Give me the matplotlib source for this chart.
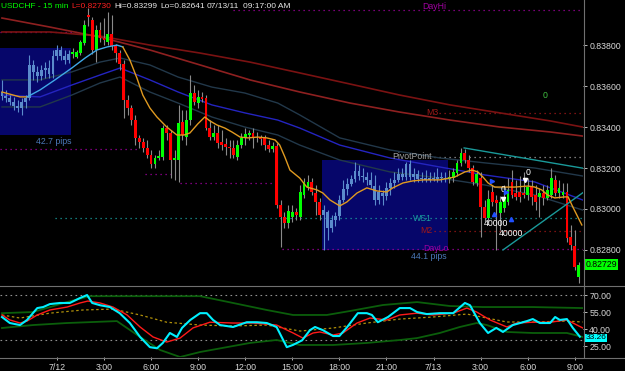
import matplotlib
matplotlib.use("Agg")
import matplotlib.pyplot as plt
from matplotlib.lines import Line2D
import numpy as np

plt.rcParams['font.family'] = ['Liberation Sans', 'DejaVu Sans']

# ---- 15 min candles, USDCHF, 7/11 20:30 .. 7/13 09:15 ----
opens = [0.83571, 0.83552, 0.83542, 0.83522, 0.83503, 0.83493, 0.83522, 0.83542, 0.83703, 0.83669,
         0.83649, 0.83678, 0.83688, 0.83659, 0.83747, 0.83776, 0.83747, 0.83727, 0.83756, 0.83742,
         0.83761, 0.83810, 0.83947, 0.83922, 0.83776, 0.83874, 0.83835, 0.83815, 0.83854, 0.83796,
         0.83761, 0.83708, 0.83532, 0.83493, 0.83434, 0.83347, 0.83327, 0.83298, 0.83264, 0.83220,
         0.83249, 0.83254, 0.83395, 0.83371, 0.83239, 0.83239, 0.83425, 0.83351, 0.83434, 0.83566,
         0.83517, 0.83547, 0.83542, 0.83395, 0.83351, 0.83371, 0.83327, 0.83317, 0.83303, 0.83298,
         0.83254, 0.83312, 0.83347, 0.83361, 0.83371, 0.83351, 0.83351, 0.83347, 0.83312, 0.83293,
         0.83308, 0.83020, 0.82961, 0.82932, 0.82961, 0.82985, 0.82961, 0.83068, 0.83107, 0.83132,
         0.83078, 0.83034, 0.82971, 0.82985, 0.82907, 0.82946, 0.82966, 0.83044, 0.83098, 0.83122,
         0.83146, 0.83186, 0.83161, 0.83156, 0.83142, 0.83112, 0.83044, 0.83078, 0.83064, 0.83103,
         0.83127, 0.83142, 0.83171, 0.83156, 0.83220, 0.83156, 0.83171, 0.83146, 0.83151, 0.83142,
         0.83151, 0.83146, 0.83156, 0.83151, 0.83146, 0.83151, 0.83176, 0.83225, 0.83273, 0.83239,
         0.83200, 0.83127, 0.83151, 0.83010, 0.82956, 0.83083, 0.83044, 0.82981, 0.83005, 0.83034,
         0.83132, 0.83078, 0.83083, 0.83078, 0.83068, 0.83107, 0.83068, 0.83059, 0.83078, 0.83054,
         0.83068, 0.83142, 0.83078, 0.83068, 0.83083, 0.82863, 0.82820, 0.82668]
highs = [0.83630, 0.83581, 0.83556, 0.83547, 0.83532, 0.83542, 0.83556, 0.83752, 0.83727, 0.83698,
         0.83703, 0.83717, 0.83727, 0.83776, 0.83800, 0.83796, 0.83776, 0.83776, 0.83786, 0.83776,
         0.83825, 0.83922, 0.83981, 0.83937, 0.83898, 0.83913, 0.83932, 0.83961, 0.83947, 0.83805,
         0.83776, 0.83727, 0.83556, 0.83508, 0.83459, 0.83361, 0.83347, 0.83337, 0.83288, 0.83264,
         0.83288, 0.83410, 0.83410, 0.83386, 0.83288, 0.83508, 0.83483, 0.83483, 0.83654, 0.83605,
         0.83581, 0.83571, 0.83556, 0.83434, 0.83410, 0.83410, 0.83386, 0.83347, 0.83337, 0.83337,
         0.83337, 0.83371, 0.83395, 0.83386, 0.83395, 0.83376, 0.83361, 0.83361, 0.83337, 0.83327,
         0.83322, 0.83044, 0.82985, 0.83020, 0.83020, 0.83005, 0.83117, 0.83151, 0.83166, 0.83151,
         0.83117, 0.83054, 0.83020, 0.82995, 0.82971, 0.82985, 0.83068, 0.83142, 0.83151, 0.83166,
         0.83229, 0.83215, 0.83200, 0.83181, 0.83181, 0.83166, 0.83117, 0.83093, 0.83132, 0.83151,
         0.83181, 0.83200, 0.83200, 0.83229, 0.83239, 0.83200, 0.83190, 0.83181, 0.83190, 0.83181,
         0.83181, 0.83200, 0.83181, 0.83181, 0.83190, 0.83200, 0.83239, 0.83298, 0.83293, 0.83264,
         0.83215, 0.83190, 0.83181, 0.83044, 0.83093, 0.83117, 0.83068, 0.83064, 0.83117, 0.83151,
         0.83190, 0.83142, 0.83161, 0.83181, 0.83151, 0.83142, 0.83117, 0.83103, 0.83117, 0.83117,
         0.83200, 0.83166, 0.83142, 0.83127, 0.83127, 0.82922, 0.82898, 0.82741]
lows = [0.83532, 0.83522, 0.83508, 0.83483, 0.83473, 0.83459, 0.83493, 0.83532, 0.83630, 0.83620,
        0.83630, 0.83639, 0.83639, 0.83639, 0.83727, 0.83727, 0.83708, 0.83713, 0.83737, 0.83737,
        0.83752, 0.83800, 0.83893, 0.83756, 0.83717, 0.83815, 0.83800, 0.83800, 0.83776, 0.83717,
        0.83678, 0.83444, 0.83459, 0.83410, 0.83312, 0.83298, 0.83278, 0.83249, 0.83200, 0.83200,
        0.83239, 0.83239, 0.83337, 0.83151, 0.83142, 0.83132, 0.83337, 0.83312, 0.83410, 0.83508,
        0.83493, 0.83522, 0.83386, 0.83337, 0.83337, 0.83298, 0.83288, 0.83264, 0.83249, 0.83249,
        0.83239, 0.83298, 0.83312, 0.83337, 0.83298, 0.83327, 0.83312, 0.83288, 0.83278, 0.83278,
        0.83005, 0.82815, 0.82907, 0.82907, 0.82937, 0.82946, 0.82946, 0.83054, 0.83093, 0.83068,
        0.82971, 0.82946, 0.82800, 0.82849, 0.82888, 0.82917, 0.82946, 0.83034, 0.83068, 0.83112,
        0.83132, 0.83142, 0.83132, 0.83117, 0.83103, 0.83020, 0.83024, 0.83020, 0.83044, 0.83068,
        0.83103, 0.83132, 0.83142, 0.83142, 0.83142, 0.83132, 0.83132, 0.83132, 0.83132, 0.83132,
        0.83137, 0.83132, 0.83132, 0.83132, 0.83127, 0.83132, 0.83161, 0.83210, 0.83225, 0.83181,
        0.83117, 0.83112, 0.82863, 0.82937, 0.82937, 0.83015, 0.82800, 0.82898, 0.82985, 0.83020,
        0.83054, 0.83044, 0.83034, 0.83054, 0.83044, 0.83020, 0.82995, 0.82961, 0.83020, 0.83044,
        0.83054, 0.83064, 0.83054, 0.83054, 0.82839, 0.82800, 0.82702, 0.82641]
closes = [0.83552, 0.83542, 0.83522, 0.83503, 0.83493, 0.83522, 0.83542, 0.83703, 0.83669, 0.83649,
          0.83678, 0.83688, 0.83659, 0.83747, 0.83776, 0.83747, 0.83727, 0.83756, 0.83766, 0.83766,
          0.83815, 0.83898, 0.83937, 0.83776, 0.83874, 0.83835, 0.83825, 0.83854, 0.83796, 0.83761,
          0.83708, 0.83532, 0.83493, 0.83434, 0.83347, 0.83327, 0.83298, 0.83264, 0.83220, 0.83249,
          0.83259, 0.83395, 0.83371, 0.83239, 0.83249, 0.83420, 0.83361, 0.83434, 0.83566, 0.83522,
          0.83547, 0.83537, 0.83395, 0.83351, 0.83371, 0.83322, 0.83312, 0.83303, 0.83298, 0.83264,
          0.83312, 0.83347, 0.83366, 0.83371, 0.83351, 0.83349, 0.83342, 0.83312, 0.83293, 0.83308,
          0.83020, 0.82961, 0.82932, 0.82990, 0.82985, 0.82971, 0.83083, 0.83132, 0.83132, 0.83083,
          0.83034, 0.82971, 0.82995, 0.82907, 0.82946, 0.82966, 0.83044, 0.83098, 0.83122, 0.83146,
          0.83186, 0.83161, 0.83156, 0.83142, 0.83117, 0.83044, 0.83083, 0.83064, 0.83103, 0.83127,
          0.83142, 0.83171, 0.83156, 0.83220, 0.83156, 0.83171, 0.83146, 0.83151, 0.83142, 0.83151,
          0.83146, 0.83156, 0.83151, 0.83146, 0.83156, 0.83181, 0.83225, 0.83273, 0.83239, 0.83200,
          0.83132, 0.83171, 0.83010, 0.82956, 0.83049, 0.83034, 0.83029, 0.83034, 0.83059, 0.83093,
          0.83068, 0.83059, 0.83059, 0.83068, 0.83107, 0.83059, 0.83034, 0.83078, 0.83054, 0.83093,
          0.83151, 0.83078, 0.83103, 0.83083, 0.82859, 0.82824, 0.82717, 0.82729]

tick_pos = [14, 26, 38, 50, 62, 74, 86, 98, 110, 122, 134, 146]
tick_labels = ['7/12', '3:00', '6:00', '9:00', '12:00', '15:00', '18:00', '21:00',
               '7/13', '3:00', '6:00', '9:00']

# session boxes (start idx, end idx, top, bottom, label)
box_x0 = [-0.5, 81.6]
box_x1 = [17.6, 113.7]
box_top = [0.83786, 0.83241]
box_bot = [0.83359, 0.82800]
box_text = ['42.7 pips', '44.1 pips']

# moving averages, read at sample bars
ema_up_x = [6.4, 9.7, 13.5, 17.8, 21.2, 24.2, 26.8, 29.3, 30.8]
ema_up_y = [0.83547, 0.83581, 0.83630, 0.83688, 0.83737, 0.83776, 0.83791, 0.83800, 0.83791]
ema_x = [0, 4.6, 6.4, 30.8, 32.6, 34.4, 35.9, 37.7, 39.5, 42.0, 44.6, 46.4, 47.9, 49.9, 51.7, 53.0,
         54.8, 56.8, 58.6, 60.7, 62.7, 65.2, 67.5, 69.6, 70.8, 72.1, 73.4, 75.9, 77.7, 80.3, 81.8,
         83.6, 86.1, 87.9, 90.5, 93.0, 95.6, 98.1, 99.6, 102.2, 104.7, 107.3, 111.6, 115.4, 118.0,
         119.8, 121.3, 122.6, 123.9, 125.6, 127.4, 130.7, 134.1, 135.8, 137.6, 139.1, 140.9, 143.5,
         144.3, 145.5, 147.8]
ema_y = [0.83571, 0.83547, 0.83547, 0.83791, 0.83727, 0.83639, 0.83556, 0.83493, 0.83449, 0.83400,
         0.83361, 0.83361, 0.83371, 0.83415, 0.83449, 0.83430, 0.83410, 0.83395, 0.83376, 0.83351,
         0.83347, 0.83351, 0.83347, 0.83337, 0.83312, 0.83254, 0.83190, 0.83151, 0.83107, 0.83093,
         0.83078, 0.83044, 0.83015, 0.83034, 0.83078, 0.83103, 0.83088, 0.83083, 0.83103, 0.83127,
         0.83137, 0.83142, 0.83142, 0.83156, 0.83181, 0.83190, 0.83181, 0.83156, 0.83127, 0.83107,
         0.83107, 0.83107, 0.83112, 0.83107, 0.83093, 0.83068, 0.83054, 0.83059, 0.83059, 0.83010,
         0.82922]

env_x = [0, 9.7, 17.8, 25, 30.1, 37.7, 44.9, 53.5, 61.9, 70.3, 75.9, 86.1, 98.9, 111.6, 123.1, 135.8, 148]
env_top = [0.83630, 0.83630, 0.83669, 0.83717, 0.83737, 0.83703, 0.83644, 0.83595, 0.83566, 0.83517,
           0.83459, 0.83347, 0.83288, 0.83249, 0.83225, 0.83200, 0.83161]
env_mid = [0.83556, 0.83547, 0.83605, 0.83654, 0.83688, 0.83630, 0.83571, 0.83508, 0.83469, 0.83434,
           0.83395, 0.83312, 0.83249, 0.83205, 0.83166, 0.83132, 0.83044]
env_bot = [0.83498, 0.83498, 0.83556, 0.83615, 0.83644, 0.83571, 0.83517, 0.83449, 0.83400, 0.83361,
           0.83312, 0.83239, 0.83181, 0.83151, 0.83117, 0.83068, 0.82995]

slow_x = [0, 12.2, 25, 37.7, 50.5, 63.2, 75.9, 88.7, 101.4, 114.2, 126.9, 139.7, 148]
slow1 = [0.83932, 0.83888, 0.83839, 0.83776, 0.83703, 0.83630, 0.83571, 0.83517, 0.83473, 0.83434,
         0.83400, 0.83376, 0.83356]
slow2 = [0.83864, 0.83864, 0.83844, 0.83800, 0.83761, 0.83717, 0.83664, 0.83610, 0.83556, 0.83508,
         0.83469, 0.83430, 0.83400]

# horizontal levels: name, price, start idx, colour, label position
lvl_names = ['DayHi', 'M3', 'PivotPoint', 'WS1', 'M2', 'DayLo']
lvl_price = [0.83971, 0.83469, 0.83254, 0.82956, 0.82893, 0.82805]
lvl_start = [59, 111.5, 110, 13.5, 110, 71.5]
lvl_color = ['#a000a0', '#a01818', '#a0a0a0', '#1aa0a0', '#a01818', '#a000a0']
lvl_text_x = [110.3, 109.6, 109.6, 107.3, 108.3, 110.6]
lvl_text_y = [0.83988, 0.83469, 0.83254, 0.82956, 0.82893, 0.82805]
lvl_ha = ['center', 'center', 'right', 'center', 'center', 'center']

old_lvl_price = [0.83864, 0.83293, 0.83171, 0.83127]
old_lvl_x0 = [-0.5, -0.5, 36.5, 45.4]
old_lvl_x1 = [20, 35, 43.5, 70]

# lower panel oscillator
rsi_x = [0, 2, 4.6, 6.4, 9, 10.5, 12.2, 14.8, 17.3, 19.9, 21.7, 23, 25, 27.5, 30, 32.6, 35.2, 37.7,
         39.5, 41, 42.8, 44.6, 45.9, 48, 50.5, 52.2, 53.8, 55.6, 58.9, 62.4, 65, 67.5, 70, 72.6, 74.2,
         76.5, 78.5, 79.8, 81.8, 84.4, 86, 88, 90.7, 93, 94.3, 95.8, 98.4, 101.4, 104, 105.8, 108.3,
         111.6, 115, 118, 119.3, 121.8, 123.9, 126, 127.7, 130.2, 133.8, 135.3, 137.1, 139.7, 141,
         142.2, 144, 145.5, 147.3]
rsi_v = [50.6, 45.3, 43.5, 48, 58.5, 59.4, 62, 63, 63, 67.4, 70, 63, 61, 59.4, 54, 45.3, 33, 24,
         23, 27.7, 36.5, 33, 41, 48, 54, 54, 48, 43.5, 41.8, 46, 46, 45.3, 41.8, 24, 26,
         30, 39, 41.8, 39, 33.8, 33.8, 41.8, 54, 54, 52.4, 46, 50.6, 58.5, 58.5, 55, 53.2,
         54, 54, 63, 61, 45.3, 36.5, 41, 37.4, 43.5, 47, 48.8, 45.3, 45.3, 50.6,
         48, 48.8, 41, 33.26]
sig_x = [0, 2, 4.6, 6.4, 9, 12.2, 16.6, 19.9, 21.9, 25, 28.3, 31.9, 35.2, 38.5, 42, 45.4, 48.7, 53,
         58.9, 64, 70, 74.2, 76.7, 79.3, 81, 84.4, 86.9, 90.5, 93.8, 98.1, 101.4, 105.8, 109.8, 115,
         118.5, 121, 124.4, 128.7, 131.2, 135.3, 139.7, 144, 148]
sig_v = [52.4, 48, 45.3, 47, 52.4, 56.8, 59.4, 63, 64.7, 63, 59.4, 52.4, 41.8, 33, 28.5, 32, 41, 46,
         45.3, 45.3, 43.5, 36.5, 32, 36.5, 37.4, 34.7, 36.5, 45.3, 49.7, 48, 52.4, 54, 52.4, 54,
         58.5, 55, 48, 41.8, 45.3, 46, 46, 48, 41]
avg_x = [0, 4.6, 12.2, 20.6, 28.3, 35.2, 42, 50.5, 58.9, 67.5, 76, 84.4, 93, 101.4, 109.8, 118.5,
         123.6, 128.7, 135.3, 144, 148]
avg_v = [52.4, 49.7, 54, 56.8, 57.6, 52.4, 46, 43.5, 42.7, 43.5, 38.2, 40.9, 45.3, 48.8, 50.6, 53.2,
         49.7, 46.2, 46.2, 47, 46.2]
band_hi_x = [0, 7.9, 16.6, 22.4, 50.5, 58.9, 67.5, 74.2, 82.8, 88.7, 97.1, 105.8, 114.2, 122.6, 135.3, 148]
band_hi_v = [54, 55, 63.8, 69, 69, 63, 56.8, 52.4, 52.4, 55.9, 61.2, 63.8, 60.3, 59.4, 59.4, 58.5]
band_lo_x = [0, 7.9, 16.6, 29.3, 35.2, 40.3, 45.4, 50.5, 63.2, 70, 75.9, 84.4, 93, 101.4, 105.8,
             111.6, 116.7, 121, 123.6, 128.7, 135.3, 144, 148]
band_lo_v = [40.9, 43.5, 45.3, 47, 33, 21.5, 15.3, 19.7, 27.7, 30.3, 25.9, 25.9, 27.7, 30.3, 32,
             36.5, 41.8, 45.3, 43.5, 37.4, 36.5, 36.5, 33]

W, H = 625, 371
fig = plt.figure(figsize=(W / 100, H / 100), dpi=100, facecolor='black')
ax = fig.add_axes([0, 1 - 285 / H, 583 / W, 285 / H])
ax2 = fig.add_axes([0, 1 - 357 / H, 583 / W, 70 / H])
for a in (ax, ax2):
    a.set_facecolor('black')
    for s in a.spines.values():
        s.set_visible(False)
    a.set_xlim(-0.5, 148.1)

ax.set_ylim(0.82629, 0.84020)
ax2.set_ylim(15.3, 77.1)

# boxes
for x0, x1, t, b in zip(box_x0, box_x1, box_top, box_bot):
    ax.add_patch(plt.Rectangle((x0, b), x1 - x0, t - b, facecolor='#06066a', edgecolor='none', zorder=0))
ax.text(box_x1[0], 0.83327, box_text[0], color='#4a78b8', fontsize=6.3, ha='right', va='center')
ax.text(box_x1[1] - 0.3, 0.82766, box_text[1], color='#4a78b8', fontsize=6.3, ha='right', va='center')

# levels
dot = (0, (1, 3))
for p, x0, c in zip(lvl_price, lvl_start, lvl_color):
    ax.plot([x0, 148.1], [p, p], color=c, lw=0.9, ls=dot, zorder=1)
for p, x0, x1 in zip(old_lvl_price, old_lvl_x0, old_lvl_x1):
    ax.plot([x0, x1], [p, p], color='#a000a0', lw=0.9, ls=dot, zorder=1)
for n, ty, tx, c, ha in zip(lvl_names, lvl_text_y, lvl_text_x, lvl_color, lvl_ha):
    ax.text(tx, ty, n, color=c, fontsize=6.3, ha=ha, va='center', zorder=4)

# moving averages
ax.plot(slow_x, slow2, color='#7a1212', lw=1.2, zorder=1)
ax.plot(slow_x, slow1, color='#8e2020', lw=1.2, zorder=1)
ax.plot(env_x, env_top, color='#22384a', lw=1.0, zorder=1)
ax.plot(env_x, env_bot, color='#22384a', lw=1.0, zorder=1)
ax.plot(env_x, env_mid, color='#2424c0', lw=1.0, zorder=1)

# candles
x = np.arange(len(closes))
o = np.array(opens)
c = np.array(closes)
in_box = np.zeros(len(x), bool)
for x0, x1 in zip(box_x0, box_x1):
    in_box |= (x > x0) & (x < x1)
col = np.where(c >= o, '#00ff00', '#ff0000').astype(object)
col[in_box] = '#5b8bcc'
wick = np.where(in_box, '#5b8bcc', '#8a8a8a')
ax.vlines(x, lows, highs, colors=wick, lw=0.8, zorder=2)
body_h = np.maximum(np.abs(c - o), 0.00003)
ax.bar(x, body_h, bottom=np.minimum(o, c), width=0.72, color=list(col), zorder=3, linewidth=0)

ax.plot(ema_x[:3], ema_y[:3], color='#e09a20', lw=1.0, zorder=3.5)
ax.plot(ema_up_x, ema_up_y, color='#40a8e8', lw=1.0, zorder=3.5)
ax.plot(ema_x[3:], ema_y[3:], color='#e09a20', lw=1.0, zorder=3.5)

# triangle trend lines
ax.plot([117.8, 148.1], [0.83298, 0.83199], color='#1a9a9a', lw=1.0, zorder=3)
ax.plot([127.7, 148.1], [0.82800, 0.83080], color='#1a9a9a', lw=1.0, zorder=3)

# signal markers
ax.text(134.0, 0.83176, '0', color='white', fontsize=6.3, ha='center', va='center', zorder=5)
ax.text(127.7, 0.83093, '0', color='white', fontsize=6.3, ha='center', va='center', zorder=5)
ax.text(125.9, 0.82927, '40000', color='white', fontsize=6.3, ha='center', va='center', zorder=5)
ax.text(129.8, 0.82878, '40000', color='white', fontsize=6.3, ha='center', va='center', zorder=5)
ax.text(138.4, 0.83556, '0', color='#40c040', fontsize=6.3, ha='center', va='center', zorder=5)
ax.plot([133.3, 127.6], [0.83142, 0.83049], 'v', color='white', ms=3, zorder=5)
ax.plot([124.9, 128.5], [0.83137, 0.83083], '>', color='#2050ff', ms=3, zorder=5)
ax.plot([125.3, 129.8], [0.82975, 0.82950], '^', color='#2050ff', ms=3, zorder=5)

# price axis
ax.yaxis.tick_right()
ax.set_yticks([0.828, 0.830, 0.832, 0.834, 0.836, 0.838])
ax.set_yticklabels(['%.5f' % v for v in [0.828, 0.830, 0.832, 0.834, 0.836, 0.838]])
ax.tick_params(axis='y', colors='#d8d8d8', labelsize=6.3, length=3, pad=1.5, width=0.6)
ax.tick_params(axis='x', bottom=False, labelbottom=False)
ax.text(1.004, closes[-1], '%.5f' % closes[-1], transform=ax.get_yaxis_transform(),
        fontsize=6.3, color='black', ha='left', va='center',
        bbox=dict(boxstyle='square,pad=0.12', fc='#00ff00', ec='none'))

# oscillator
for lv in (30, 70):
    ax2.axhline(lv, color='#909090', lw=0.8, ls=(0, (1.5, 3)))
ax2.plot(band_hi_x, band_hi_v, color='#0b5e0b', lw=1.3)
ax2.plot(band_lo_x, band_lo_v, color='#0b5e0b', lw=1.3)
ax2.plot(avg_x, avg_v, color='#b0900a', lw=0.9, ls=(0, (2, 2)))
ax2.plot(sig_x, sig_v, color='#ff1a1a', lw=1.0)
ax2.plot(rsi_x, rsi_v, color='#00f0ff', lw=1.5)
ax2.yaxis.tick_right()
ax2.set_yticks([25, 40, 55, 70])
ax2.set_yticklabels(['25.00', '40.00', '55.00', '70.00'])
ax2.tick_params(axis='y', colors='#d8d8d8', labelsize=6.3, length=3, pad=1.5, width=0.6)
ax2.set_xticks(tick_pos)
ax2.set_xticklabels(tick_labels)
ax2.tick_params(axis='x', colors='#d8d8d8', labelsize=6.3, length=2, pad=2, width=0.6)
ax2.text(1.004, 32.2, '%.2f' % rsi_v[-1], transform=ax2.get_yaxis_transform(),
         fontsize=6.0, color='black', ha='left', va='center',
         bbox=dict(boxstyle='square,pad=0.08', fc='#00ffff', ec='none'))

# frame lines
fig.add_artist(Line2D([583.5 / W] * 2, [1 - 357 / H, 1], color='#707070', lw=0.8))
fig.add_artist(Line2D([0, 1], [1 - 286 / H] * 2, color='#707070', lw=0.8))
fig.add_artist(Line2D([0, 1], [1 - 357.5 / H] * 2, color='#707070', lw=0.8))

# header
hy = 1 - 6 / H
fig.text(1 / W, hy, 'USDCHF - 15 min', color='#00ff00', fontsize=6.0, va='center')
fig.text(71 / W, hy, 'L=0.82730', color='#ff2020', fontsize=6.0, va='center')
fig.text(114 / W, hy, 'Hi=0.83299', color='#e8e8e8', fontsize=6.0, va='center')
fig.text(160 / W, hy, 'Lo=0.82641', color='#e8e8e8', fontsize=6.0, va='center')
fig.text(207 / W, hy, '07/13/11', color='#e8e8e8', fontsize=6.0, va='center')
fig.text(243 / W, hy, '09:17:00 AM', color='#e8e8e8', fontsize=6.0, va='center')

fig.savefig('out.png', dpi=100, facecolor='black')
